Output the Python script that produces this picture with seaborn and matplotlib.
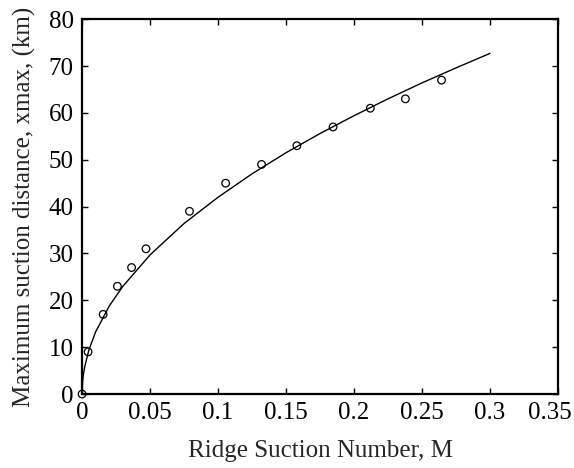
import matplotlib
matplotlib.use("Agg")
import matplotlib.pyplot as plt
import matplotlib.transforms as mtransforms
import seaborn as sns
import pandas as pd

# Observed points
m_obs = [0.0, 0.0044, 0.0155, 0.026, 0.0364, 0.047, 0.079, 0.1056, 0.132, 0.158, 0.1846, 0.212, 0.2378, 0.2644]
x_obs = [0, 9, 17, 23, 27, 31, 39, 45, 49, 53, 57, 61, 63, 67]

# Fitted curve
m_fit = [0.0, 0.0005, 0.001, 0.002, 0.005, 0.01, 0.02, 0.03, 0.05, 0.075, 0.1, 0.125, 0.15, 0.175, 0.2, 0.225, 0.25, 0.275, 0.3]
x_fit = [0.0, 3.0, 4.2, 5.9, 9.4, 13.3, 18.8, 23.0, 29.7, 36.4, 42.0, 47.0, 51.5, 55.6, 59.4, 63.0, 66.4, 69.6, 72.7]

x_ticks = [0, 0.05, 0.1, 0.15, 0.2, 0.25, 0.3, 0.35]
x_tick_labels = ["0", "0.05", "0.1", "0.15", "0.2", "0.25", "0.3", "0.35"]
y_ticks = [0, 10, 20, 30, 40, 50, 60, 70, 80]

sns.set_style("ticks")
plt.rcParams["font.family"] = ["Liberation Serif", "DejaVu Serif"]

fig = plt.figure(figsize=(5.74, 4.68), dpi=100)
ax = fig.add_axes([0.143, 0.158, 0.829, 0.801])

df_fit = pd.DataFrame({"M": m_fit, "x": x_fit})
df_obs = pd.DataFrame({"M": m_obs, "x": x_obs})

sns.lineplot(data=df_fit, x="M", y="x", ax=ax, color="black", linewidth=1.0, sort=True)
sns.scatterplot(data=df_obs, x="M", y="x", ax=ax, marker="o", s=30,
                facecolor="none", edgecolor="black", linewidth=0.9, zorder=5, clip_on=False)

ax.set_xlim(0, 0.35)
ax.set_ylim(0, 80)
ax.set_xticks(x_ticks)
ax.set_xticklabels(x_tick_labels)
ax.set_yticks(y_ticks)
ax.tick_params(direction="in", length=4, width=1.0, labelsize=18, pad=6,
               top=True, right=True, color="black", labelcolor="black")
for s in ax.spines.values():
    s.set_visible(True)
    s.set_linewidth(1.6)
    s.set_color("black")

# nudge the last x tick label left so it stays inside the figure
last = ax.xaxis.get_majorticklabels()[-1]
last.set_transform(last.get_transform() + mtransforms.ScaledTranslation(-0.08, 0, fig.dpi_scale_trans))

ax.set_xlabel("Ridge Suction Number, M", fontsize=18, labelpad=11)
ax.set_ylabel("Maximum suction distance, xmax, (km)", fontsize=18, labelpad=9)

fig.savefig("out.png", dpi=100)
